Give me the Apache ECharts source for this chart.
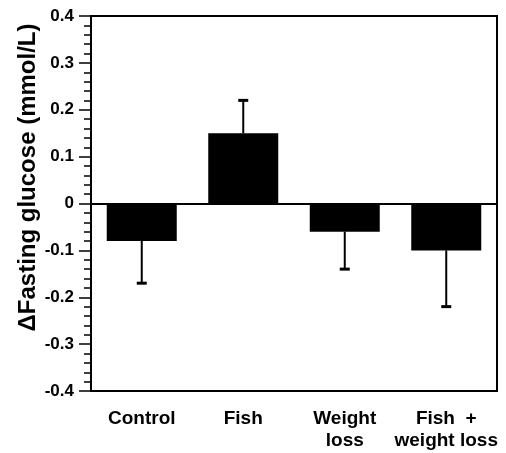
<!DOCTYPE html>
<html>
<head>
<meta charset="utf-8">
<script src="https://cdn.jsdelivr.net/npm/echarts@6/dist/echarts.min.js"></script>
<style>
  html, body { margin: 0; padding: 0; background: #fff; }
  #chart { width: 506px; height: 453px; }
</style>
</head>
<body>
<div id="chart"></div>
<script>
// values
const categories = ["Control", "Fish", "Weight\nloss", "Fish  +\nweight loss"];
const meanChange = [-0.08, 0.15, -0.06, -0.10];
const errorEnd = [-0.17, 0.22, -0.14, -0.22];
const yMin = -0.4;
const yMax = 0.4;
const yStep = 0.1;

const fontFamily = '"Liberation Sans", Arial, Helvetica, sans-serif';

const chart = echarts.init(document.getElementById("chart"));

const errorData = categories.map((c, i) => [i, meanChange[i], errorEnd[i]]);

const option = {
  animation: false,
  grid: {
    left: 91,
    right: 9,
    top: 16,
    bottom: 62,
    show: true,
    borderColor: "#000",
    borderWidth: 2,
    containLabel: false,
  },
  xAxis: {
    type: "category",
    data: categories,
    axisTick: { show: false },
    axisLine: { onZero: false, lineStyle: { color: "#000", width: 2 } },
    axisLabel: {
      color: "#000",
      fontFamily,
      fontWeight: "bold",
      fontSize: 19,
      lineHeight: 22,
      margin: 17,
      interval: 0,
    },
    splitLine: { show: false },
  },
  yAxis: {
    type: "value",
    min: yMin,
    max: yMax,
    interval: yStep,
    name: "ΔFasting glucose (mmol/L)",
    nameLocation: "middle",
    nameGap: 51,
    nameMoveOverlap: false,
    nameTextStyle: {
      color: "#000",
      fontFamily,
      fontWeight: "bold",
      fontSize: 24,
      padding: [0, 0, 0, 52],
    },
    axisLine: { show: true, lineStyle: { color: "#000", width: 2 } },
    axisTick: { show: true, length: 12, lineStyle: { color: "#000", width: 1.5 } },
    minorTick: { show: true, splitNumber: 5, length: 7, lineStyle: { color: "#000", width: 1.5 } },
    axisLabel: {
      color: "#000",
      fontFamily,
      fontWeight: "bold",
      fontSize: 17,
      margin: 17,
      formatter: (v) => (Math.abs(v) < 1e-9 ? "0" : v.toFixed(1)),
    },
    splitLine: { show: false },
  },
  series: [
    {
      type: "bar",
      data: meanChange,
      barWidth: 70,
      itemStyle: { color: "#000" },
      markLine: {
        silent: true,
        symbol: ["none", "none"],
        label: { show: false },
        lineStyle: { color: "#000", width: 2, type: "solid" },
        data: [{ yAxis: 0 }],
      },
    },
    {
      type: "custom",
      data: errorData,
      encode: { x: 0, y: [1, 2] },
      z: 3,
      renderItem: (params, api) => {
        const base = api.coord([api.value(0), api.value(1)]);
        const end = api.coord([api.value(0), api.value(2)]);
        const cap = 5;
        const style = { stroke: "#000", lineWidth: 2 };
        return {
          type: "group",
          children: [
            { type: "line", shape: { x1: base[0], y1: base[1], x2: end[0], y2: end[1] }, style },
            { type: "line", shape: { x1: end[0] - cap, y1: end[1], x2: end[0] + cap, y2: end[1] }, style: { stroke: "#000", lineWidth: 3 } },
          ],
        };
      },
    },
  ],
};

chart.setOption(option);
</script>
</body>
</html>
